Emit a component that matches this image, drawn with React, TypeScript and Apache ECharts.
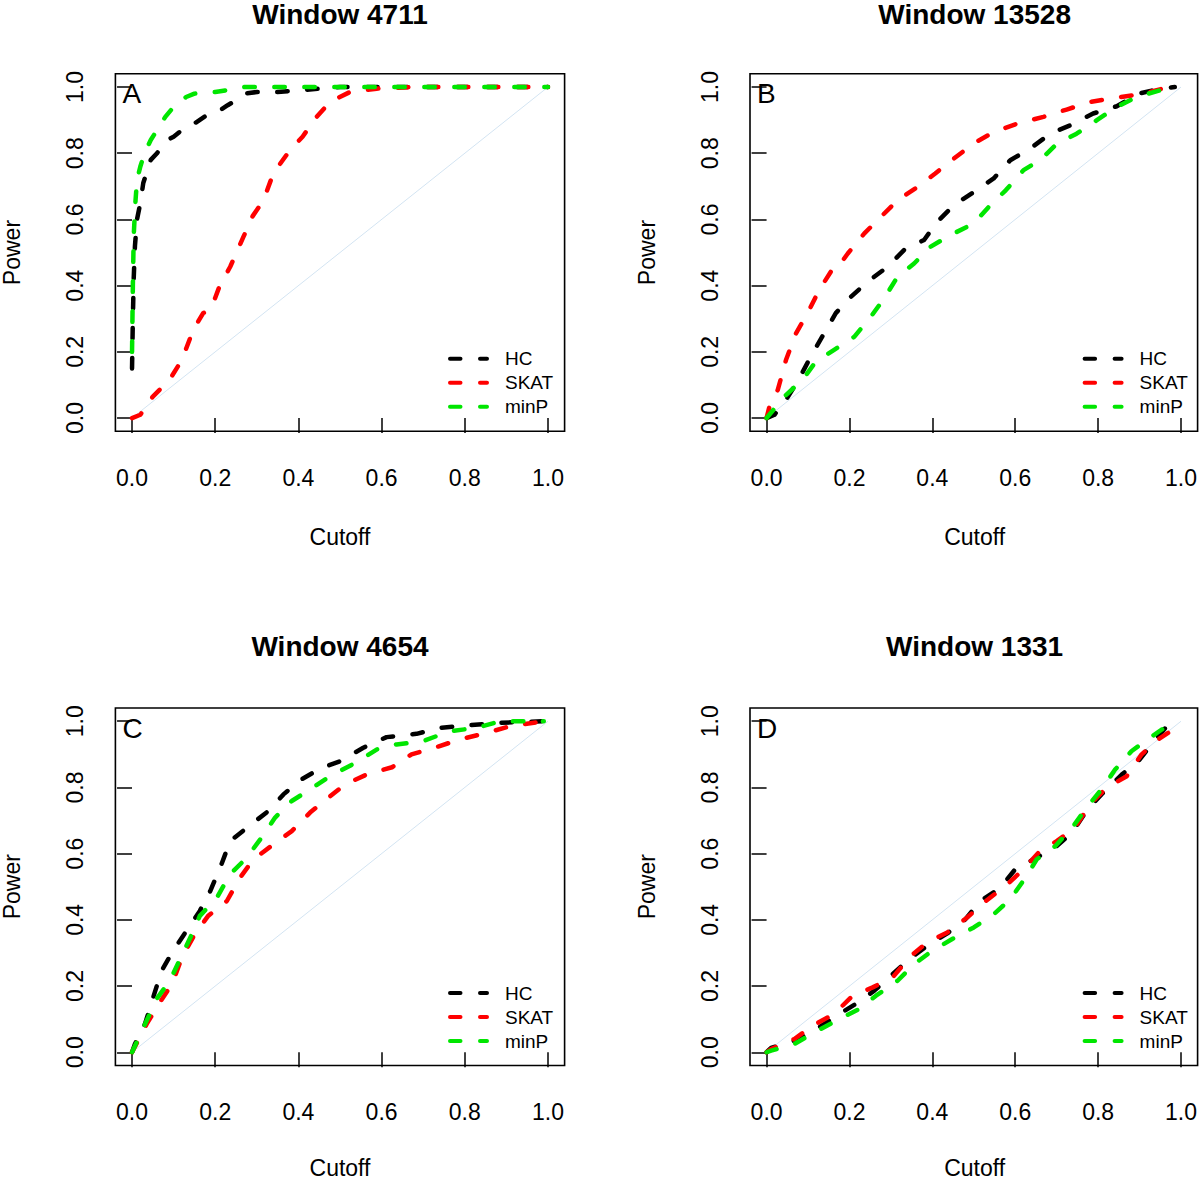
import React, { useEffect, useRef } from "react";
import * as echarts from "echarts";

// ---- Data (cutoff, power) ----
const seriesNames = ["HC", "SKAT", "minP"];
const seriesColors = ["#000000", "#FF0000", "#00E600"];
const panelTitles = ["Window 4711", "Window 13528", "Window 4654", "Window 1331"];
const panelLetters = ["A", "B", "C", "D"];
const tickValues = [0, 0.2, 0.4, 0.6, 0.8, 1.0];
const tickLabels = ["0.0", "0.2", "0.4", "0.6", "0.8", "1.0"];
const xAxisTitle = "Cutoff";
const yAxisTitle = "Power";

// Panel A – Window 4711
const hcA = [[0,0.15],[0.002,0.3],[0.004,0.42],[0.007,0.52],[0.012,0.6],[0.02,0.65],[0.027,0.71],[0.045,0.78],[0.06,0.8],[0.085,0.84],[0.1,0.85],[0.13,0.88],[0.15,0.89],[0.18,0.915],[0.2,0.92],[0.23,0.945],[0.25,0.96],[0.27,0.98],[0.3,0.985],[0.35,0.985],[0.4,0.99],[0.45,0.995],[0.5,1],[1,1]];
const skatA = [[0,0],[0.02,0.01],[0.05,0.065],[0.09,0.115],[0.12,0.176],[0.147,0.266],[0.171,0.317],[0.19,0.33],[0.21,0.397],[0.236,0.457],[0.268,0.548],[0.29,0.61],[0.316,0.658],[0.34,0.74],[0.38,0.81],[0.41,0.85],[0.444,0.91],[0.476,0.955],[0.524,0.985],[0.588,0.995],[0.67,1],[1,1]];
const minpA = [[0,0.2],[0.002,0.4],[0.004,0.55],[0.008,0.65],[0.012,0.72],[0.02,0.76],[0.03,0.8],[0.045,0.84],[0.06,0.87],[0.08,0.91],[0.1,0.94],[0.13,0.97],[0.15,0.98],[0.2,0.985],[0.25,0.995],[0.27,1],[1,1]];

// Panel B – Window 13528
const hcB = [[0,0],[0.019,0.01],[0.047,0.055],[0.079,0.12],[0.111,0.196],[0.139,0.256],[0.167,0.317],[0.204,0.367],[0.244,0.412],[0.292,0.457],[0.332,0.508],[0.38,0.538],[0.412,0.593],[0.452,0.643],[0.5,0.683],[0.548,0.724],[0.588,0.779],[0.636,0.814],[0.684,0.859],[0.732,0.884],[0.788,0.92],[0.845,0.942],[0.897,0.98],[0.949,0.995],[0.985,1]];
const skatB = [[0,0],[0.007,0.035],[0.027,0.085],[0.047,0.176],[0.071,0.256],[0.099,0.317],[0.127,0.387],[0.155,0.442],[0.167,0.447],[0.196,0.497],[0.236,0.558],[0.276,0.608],[0.316,0.658],[0.364,0.698],[0.407,0.739],[0.452,0.784],[0.5,0.83],[0.548,0.864],[0.604,0.889],[0.668,0.91],[0.724,0.932],[0.78,0.955],[0.845,0.968],[0.909,0.98],[0.97,1],[0.985,1]];
const minpB = [[0,0],[0.043,0.065],[0.087,0.116],[0.119,0.171],[0.163,0.206],[0.212,0.246],[0.252,0.307],[0.284,0.362],[0.316,0.427],[0.356,0.467],[0.396,0.518],[0.444,0.553],[0.5,0.588],[0.536,0.638],[0.577,0.688],[0.62,0.749],[0.66,0.779],[0.701,0.829],[0.748,0.859],[0.797,0.9],[0.845,0.94],[0.893,0.97],[0.949,0.99],[0.985,1]];

// Panel C – Window 4654
const hcC = [[0,0],[0.007,0.025],[0.031,0.085],[0.051,0.166],[0.071,0.246],[0.099,0.307],[0.131,0.367],[0.163,0.427],[0.188,0.487],[0.212,0.558],[0.236,0.638],[0.276,0.678],[0.328,0.729],[0.364,0.779],[0.407,0.824],[0.452,0.857],[0.5,0.879],[0.556,0.92],[0.612,0.952],[0.684,0.962],[0.74,0.98],[0.804,0.987],[0.877,0.995],[0.94,0.998],[0.99,1]];
const skatC = [[0,0],[0.035,0.085],[0.067,0.151],[0.096,0.206],[0.12,0.286],[0.151,0.357],[0.183,0.412],[0.228,0.457],[0.26,0.528],[0.292,0.583],[0.34,0.628],[0.384,0.668],[0.428,0.724],[0.472,0.769],[0.512,0.809],[0.564,0.839],[0.625,0.861],[0.672,0.9],[0.732,0.922],[0.788,0.945],[0.853,0.965],[0.909,0.985],[0.99,1]];
const minpC = [[0,0],[0.035,0.095],[0.059,0.161],[0.091,0.216],[0.144,0.357],[0.163,0.412],[0.204,0.467],[0.236,0.538],[0.276,0.588],[0.311,0.648],[0.344,0.709],[0.384,0.759],[0.428,0.794],[0.476,0.834],[0.532,0.871],[0.589,0.915],[0.636,0.93],[0.7,0.94],[0.764,0.97],[0.829,0.98],[0.885,1],[0.99,1]];

// Panel D – Window 1331
const hcD = [[0,0],[0.011,0.013],[0.067,0.035],[0.115,0.065],[0.163,0.106],[0.215,0.146],[0.26,0.186],[0.3,0.231],[0.344,0.281],[0.388,0.322],[0.436,0.359],[0.48,0.402],[0.516,0.457],[0.564,0.497],[0.6,0.553],[0.652,0.588],[0.7,0.623],[0.737,0.663],[0.772,0.729],[0.808,0.779],[0.857,0.839],[0.897,0.879],[0.929,0.93],[0.969,0.99],[0.99,0.99]];
const skatD = [[0,0],[0.011,0.01],[0.067,0.04],[0.111,0.08],[0.163,0.116],[0.208,0.171],[0.256,0.196],[0.304,0.226],[0.348,0.291],[0.388,0.332],[0.436,0.362],[0.484,0.407],[0.529,0.457],[0.577,0.503],[0.616,0.548],[0.656,0.603],[0.7,0.638],[0.744,0.678],[0.78,0.749],[0.821,0.799],[0.869,0.834],[0.905,0.9],[0.945,0.945],[0.993,0.985]];
const minpD = [[0,0],[0.011,0.005],[0.067,0.025],[0.115,0.06],[0.175,0.1],[0.224,0.131],[0.264,0.171],[0.316,0.216],[0.356,0.266],[0.4,0.307],[0.448,0.342],[0.5,0.377],[0.548,0.417],[0.588,0.462],[0.625,0.528],[0.652,0.583],[0.697,0.623],[0.74,0.683],[0.772,0.739],[0.808,0.794],[0.841,0.854],[0.881,0.91],[0.925,0.95],[0.965,0.985],[0.99,1]];

const diagonal = [[0, 0], [1, 1]];

const panelData = [
  [hcA, skatA, minpA],
  [hcB, skatB, minpB],
  [hcC, skatC, minpC],
  [hcD, skatD, minpD],
];

// ---- Layout ----
const FONT = "'Liberation Sans', Arial, Helvetica, sans-serif";
const boxW = 449.2;
const boxH = 357.5;
const boxes = [
  { left: 115.4, top: 73.8 },
  { left: 750, top: 73.8 },
  { left: 115.4, top: 708 },
  { left: 750, top: 708 },
];
const LINE_W = 4.5;
const DASH = [10.5, 19.5];

export default function App() {
  const ref = useRef<HTMLDivElement>(null);

  useEffect(() => {
    if (!ref.current) return;
    document.body.style.margin = "0";
    const chart = echarts.init(ref.current, undefined, { renderer: "svg" });

    const grid: any[] = [];
    const xAxis: any[] = [];
    const yAxis: any[] = [];
    const series: any[] = [];
    const graphic: any[] = [];

    const fmt = (v: number) =>
      tickLabels[tickValues.findIndex((t) => Math.abs(t - v) < 1e-9)] ?? "";

    boxes.forEach((b, i) => {
      grid.push({
        left: b.left,
        top: b.top,
        width: boxW,
        height: boxH,
        show: true,
        borderColor: "#000",
        borderWidth: 1.6,
        backgroundColor: "transparent",
      });
      const axisCommon = {
        type: "value",
        min: -0.04,
        max: 1.04,
        gridIndex: i,
        splitLine: { show: false },
        axisLine: { show: false },
        axisTick: {
          show: true,
          customValues: tickValues,
          length: 15,
          inside: false,
          lineStyle: { color: "#000", width: 1.5 },
        },
      };
      xAxis.push({
        ...axisCommon,
        position: "bottom",
        axisLabel: {
          customValues: tickValues,
          formatter: fmt,
          color: "#000",
          fontSize: 23,
          fontFamily: FONT,
          margin: 35,
        },
      });
      yAxis.push({
        ...axisCommon,
        position: "left",
        axisLabel: {
          customValues: tickValues,
          formatter: fmt,
          color: "#000",
          fontSize: 23,
          fontFamily: FONT,
          rotate: 90,
          margin: 29,
        },
      });

      panelData[i].forEach((d, k) => {
        series.push({
          name: seriesNames[k],
          type: "line",
          xAxisIndex: i,
          yAxisIndex: i,
          data: d,
          symbol: "none",
          smooth: false,
          lineStyle: { color: seriesColors[k], width: LINE_W, type: DASH, cap: "round", join: "round" },
          itemStyle: { color: seriesColors[k] },
          z: 3 + k,
        });
      });
      series.push({
        name: "diag" + i,
        type: "line",
        xAxisIndex: i,
        yAxisIndex: i,
        data: diagonal,
        symbol: "none",
        silent: true,
        lineStyle: { color: "#d3e4f2", width: 1 },
        z: 2,
      });

      // Legend (drawn as dashed line samples + labels, as in the R figure)
      seriesNames.forEach((name, k) => {
        const ly = b.top + 285 + k * 24;
        graphic.push({
          type: "line",
          shape: { x1: b.left + 334.6, y1: ly, x2: b.left + 371.6, y2: ly },
          style: { stroke: seriesColors[k], lineWidth: 4, lineDash: DASH, lineCap: "round" },
          silent: true,
        });
        graphic.push({
          type: "text",
          x: b.left + 389.6,
          y: ly,
          style: { text: name, font: `19px ${FONT}`, fill: "#000", textAlign: "left", textVerticalAlign: "middle" },
        });
      });

      const cx = b.left + boxW / 2;
      const cy = b.top + boxH / 2;
      graphic.push({
        type: "text",
        x: cx,
        y: i < 2 ? 14.5 : b.top - 62,
        style: { text: panelTitles[i], font: `bold 28px ${FONT}`, fill: "#000", textAlign: "center", textVerticalAlign: "middle" },
      });
      graphic.push({
        type: "text",
        x: cx,
        y: i < 2 ? b.top + boxH + 106 : b.top + boxH + 102,
        style: { text: xAxisTitle, font: `23px ${FONT}`, fill: "#000", textAlign: "center", textVerticalAlign: "middle" },
      });
      graphic.push({
        type: "text",
        x: b.left - 103,
        y: cy,
        rotation: Math.PI / 2,
        style: { text: yAxisTitle, font: `23px ${FONT}`, fill: "#000", textAlign: "center", textVerticalAlign: "middle" },
      });
      graphic.push({
        type: "text",
        x: b.left + 7,
        y: b.top + 20,
        style: { text: panelLetters[i], font: `28px ${FONT}`, fill: "#000", textAlign: "left", textVerticalAlign: "middle" },
      });
    });

    chart.setOption({
      animation: false,
      backgroundColor: "#fff",
      grid,
      xAxis,
      yAxis,
      series,
      graphic,
    });

    return () => chart.dispose();
  }, []);

  return (
    <div
      ref={ref}
      style={{ position: "absolute", left: 0, top: 0, width: 1200, height: 1180 }}
    />
  );
}
